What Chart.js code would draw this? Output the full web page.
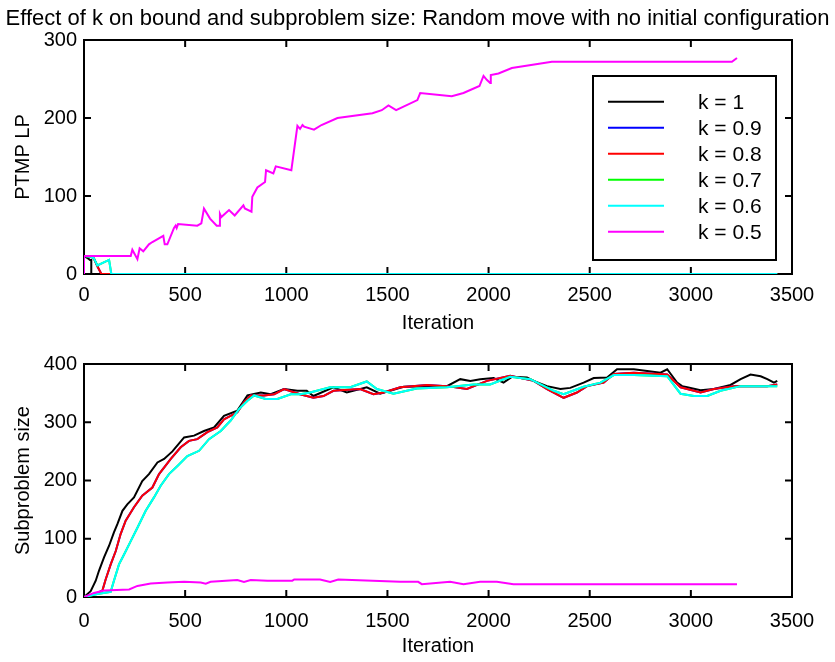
<!DOCTYPE html>
<html>
<head>
<meta charset="utf-8">
<script src="https://cdn.jsdelivr.net/npm/chart.js@4.4.0/dist/chart.umd.min.js"></script>
<style>
  html, body { margin: 0; padding: 0; background: #fff; }
  #wrap { position: relative; width: 835px; height: 662px; }
  #topChart { position: absolute; left: 0; top: 0; }
  #bottomChart { position: absolute; left: 0; top: 333px; }
</style>
</head>
<body>
<div id="wrap">
  <canvas id="topChart" width="835" height="333"></canvas>
  <canvas id="bottomChart" width="835" height="329"></canvas>
</div>
<script>
// Effect of k on bound (PTMP LP) and subproblem size, one line per k value

const kLabels = ['k = 1', 'k = 0.9', 'k = 0.8', 'k = 0.7', 'k = 0.6', 'k = 0.5'];
const kColors = ['#000000', '#0000ff', '#ff0000', '#00ff00', '#00ffff', '#ff00ff'];

const xTicks = [0, 500, 1000, 1500, 2000, 2500, 3000, 3500];
const topYTicks = [0, 100, 200, 300];
const bottomYTicks = [0, 100, 200, 300, 400];

// PTMP LP per iteration, [iteration, value]
const lpK1 = [[0, 23], [20, 20], [30, 18], [36, 18], [36, 0], [3427, 0]];
const lpK08 = [[0, 23], [36, 22], [49, 20], [66, 10], [86, 0], [3427, 0]];
const lpK06 = [[0, 23], [36, 22], [49, 20], [66, 11], [124, 18], [135, 0], [3427, 0]];
const lpK09 = lpK08;   // hidden under k = 0.8
const lpK07 = lpK06;   // hidden under k = 0.6
const lpK05 = [
  [0, 0], [0, 23], [231, 23], [239, 31], [264, 19], [275, 33], [293, 29], [321, 38], [338, 41],
  [392, 49], [399, 38], [412, 38], [445, 59], [453, 62], [458, 59], [465, 64], [560, 62], [580, 65],
  [593, 84], [623, 71], [656, 62], [672, 62], [672, 77], [679, 73], [717, 82], [745, 75], [788, 88],
  [795, 84], [828, 80], [832, 99], [857, 111], [895, 118], [900, 133], [936, 129], [948, 138],
  [1025, 133], [1055, 190], [1068, 186], [1080, 191], [1088, 189], [1137, 185], [1174, 191],
  [1253, 200], [1426, 206], [1472, 210], [1505, 216], [1543, 210], [1648, 223], [1662, 232],
  [1818, 228], [1876, 232], [1955, 241], [1975, 254], [1991, 249], [2008, 245], [2011, 255],
  [2049, 257], [2115, 264], [2313, 272], [3203, 272], [3228, 277]
];

// Subproblem size per iteration, [iteration, value]
const sizeK1 = [
  [0, 0], [33, 10], [58, 28], [74, 45], [99, 68], [124, 88], [148, 111], [165, 125], [190, 148],
  [214, 159], [247, 171], [288, 199], [321, 211], [363, 231], [396, 237], [437, 250], [495, 274],
  [544, 277], [593, 285], [643, 291], [692, 311], [758, 320], [808, 346], [874, 351], [923, 348],
  [989, 357], [1055, 354], [1101, 354], [1134, 345], [1233, 360], [1299, 351], [1398, 360],
  [1464, 349], [1580, 361], [1695, 362], [1794, 362], [1860, 374], [1910, 371], [1959, 374],
  [2025, 376], [2074, 368], [2115, 378], [2190, 377], [2223, 371], [2289, 362], [2355, 357],
  [2404, 359], [2470, 368], [2520, 376], [2586, 377], [2635, 391], [2718, 391], [2784, 388],
  [2850, 385], [2883, 391], [2932, 368], [2957, 362], [2982, 360], [3048, 355], [3114, 357],
  [3196, 364], [3246, 374], [3295, 382], [3345, 379], [3378, 374], [3411, 368], [3427, 371]
];
const sizeK08 = [
  [0, 0], [66, 7], [91, 11], [107, 30], [132, 56], [157, 79], [181, 108], [206, 131], [247, 154],
  [288, 174], [338, 188], [371, 211], [429, 237], [478, 257], [519, 268], [560, 271], [610, 283],
  [659, 291], [692, 305], [758, 317], [791, 334], [824, 346], [890, 346], [940, 348], [989, 357],
  [1068, 348], [1134, 342], [1184, 345], [1233, 354], [1365, 357], [1431, 348], [1481, 351],
  [1563, 360], [1695, 364], [1794, 362], [1893, 357], [1992, 371], [2107, 380], [2223, 371],
  [2289, 357], [2371, 342], [2437, 351], [2487, 362], [2569, 368], [2619, 383], [2718, 385],
  [2883, 382], [2949, 360], [3048, 351], [3114, 357], [3213, 362], [3378, 362], [3427, 365]
];
const sizeK06 = [
  [0, 0], [66, 5], [132, 9], [148, 28], [173, 56], [198, 73], [231, 96], [264, 119], [305, 148],
  [346, 171], [379, 191], [420, 211], [462, 225], [511, 242], [569, 251], [618, 271], [676, 285],
  [725, 303], [767, 323], [808, 337], [841, 346], [898, 340], [956, 340], [1022, 348], [1068, 348],
  [1118, 351], [1217, 360], [1316, 360], [1398, 370], [1448, 357], [1530, 349], [1645, 358],
  [1794, 360], [1926, 365], [2008, 365], [2107, 378], [2206, 374], [2322, 354], [2371, 348],
  [2470, 361], [2553, 368], [2619, 381], [2718, 381], [2883, 379], [2949, 349], [3015, 345],
  [3081, 345], [3147, 354], [3246, 362], [3378, 362], [3427, 362]
];
const sizeK09 = sizeK08;   // hidden under k = 0.8
const sizeK07 = sizeK06;   // hidden under k = 0.6
const sizeK05 = [
  [0, 0], [49, 7], [99, 11], [223, 13], [264, 19], [330, 23], [412, 25], [495, 26], [577, 25],
  [602, 23], [626, 26], [758, 29], [791, 26], [824, 29], [907, 28], [1030, 28], [1039, 30],
  [1167, 30], [1217, 26], [1257, 30], [1563, 26], [1652, 26], [1670, 22], [1810, 26], [1876, 22],
  [1958, 26], [2041, 26], [2123, 22], [3228, 22]
];

const FONT = "'Liberation Sans', Arial, Helvetica, sans-serif";

function toPoints(pairs) {
  return pairs.map(([x, y]) => ({ x: x, y: y }));
}

function makeDatasets(seriesList) {
  // matlab draws in order, so k = 1 goes underneath and k = 0.5 on top
  return seriesList.map((s, i) => ({
    label: kLabels[i],
    data: toPoints(s),
    borderColor: kColors[i],
    backgroundColor: kColors[i],
    borderWidth: 2,
    pointRadius: 0,
    tension: 0,
    order: seriesList.length - i
  }));
}

// box round the plot with inward ticks on all four sides
const frameTicks = {
  id: 'frameTicks',
  beforeDatasetsDraw(chart) {
    const { ctx, chartArea: a, scales: { x, y } } = chart;
    const len = 7;
    ctx.save();
    ctx.strokeStyle = '#000';
    ctx.lineWidth = 2;
    ctx.strokeRect(a.left, a.top, a.right - a.left, a.bottom - a.top);
    ctx.beginPath();
    x.ticks.forEach(t => {
      const px = x.getPixelForValue(t.value);
      ctx.moveTo(px, a.bottom);
      ctx.lineTo(px, a.bottom - len);
      ctx.moveTo(px, a.top);
      ctx.lineTo(px, a.top + len);
    });
    y.ticks.forEach(t => {
      const py = y.getPixelForValue(t.value);
      ctx.moveTo(a.left, py);
      ctx.lineTo(a.left + len, py);
      ctx.moveTo(a.right, py);
      ctx.lineTo(a.right - len, py);
    });
    ctx.stroke();
    ctx.restore();
  }
};

// legend in a framed box inside the top plot
const boxLegend = {
  id: 'boxLegend',
  afterDraw(chart, args, opts) {
    if (!opts.show) return;
    const ctx = chart.ctx;
    ctx.save();
    ctx.fillStyle = '#fff';
    ctx.fillRect(opts.left, opts.top, opts.width, opts.height);
    ctx.strokeStyle = '#000';
    ctx.lineWidth = 2;
    ctx.strokeRect(opts.left, opts.top, opts.width, opts.height);
    ctx.font = '21px ' + FONT;
    ctx.textAlign = 'left';
    ctx.textBaseline = 'middle';
    chart.data.datasets.forEach((ds, i) => {
      const yy = opts.firstRow + i * opts.rowGap;
      ctx.strokeStyle = ds.borderColor;
      ctx.lineWidth = 2;
      ctx.beginPath();
      ctx.moveTo(opts.lineX1, yy);
      ctx.lineTo(opts.lineX2, yy);
      ctx.stroke();
      ctx.fillStyle = '#000';
      ctx.fillText(ds.label, opts.textX, yy + 2);
    });
    ctx.restore();
  }
};

function makeChart(canvasId, datasets, cfg) {
  return new Chart(document.getElementById(canvasId), {
    type: 'line',
    data: { datasets: datasets },
    options: {
      responsive: false,
      animation: false,
      layout: { padding: { left: 0, right: 0, top: cfg.padTop, bottom: 0 } },
      plugins: {
        legend: { display: false },
        tooltip: { enabled: false },
        title: cfg.title ? {
          display: true,
          text: cfg.title,
          color: '#000',
          font: { family: FONT, size: 22, weight: 'normal', lineHeight: 1.2 },
          padding: { top: 5.8, bottom: 7.8 }
        } : { display: false },
        boxLegend: cfg.legend || { show: false }
      },
      scales: {
        x: {
          type: 'linear',
          min: 0,
          max: 3500,
          afterBuildTicks: s => { s.ticks = xTicks.map(v => ({ value: v })); },
          afterFit: s => { s.height = cfg.xHeight; },
          grid: { display: false, drawTicks: false },
          border: { display: false },
          ticks: {
            color: '#000',
            padding: cfg.xTickPad,
            maxRotation: 0,
            callback: v => String(v),
            font: { family: FONT, size: 20, lineHeight: 1.2 }
          },
          title: {
            display: true,
            text: 'Iteration',
            color: '#000',
            font: { family: FONT, size: 20, lineHeight: 1 },
            padding: { top: 0, bottom: cfg.xTitlePad }
          }
        },
        y: {
          type: 'linear',
          min: 0,
          max: cfg.yTicks[cfg.yTicks.length - 1],
          afterBuildTicks: s => { s.ticks = cfg.yTicks.map(v => ({ value: v })); },
          afterFit: s => { s.width = 84; },
          grid: { display: false, drawTicks: false },
          border: { display: false },
          ticks: {
            color: '#000',
            padding: 7,
            callback: v => String(v),
            font: { family: FONT, size: 20, lineHeight: 1.2 }
          },
          title: {
            display: true,
            text: cfg.yTitle,
            color: '#000',
            font: { family: FONT, size: 20, lineHeight: 1 },
            padding: { top: 13.5, bottom: 0 }
          }
        },
        // empty right margin so the figure title centres on the whole width
        yRight: {
          type: 'linear',
          position: 'right',
          afterFit: s => { s.width = 43; },
          grid: { display: false, drawTicks: false },
          border: { display: false },
          ticks: { display: false }
        }
      }
    },
    plugins: [frameTicks, boxLegend]
  });
}

makeChart('topChart', makeDatasets([lpK1, lpK09, lpK08, lpK07, lpK06, lpK05]), {
  title: 'Effect of k on bound and subproblem size: Random move with no initial configuration',
  padTop: 0,
  xHeight: 59,
  xTickPad: 9,
  xTitlePad: 0,
  yTicks: topYTicks,
  yTitle: 'PTMP LP',
  legend: {
    show: true,
    left: 593, top: 76, width: 183, height: 184,
    firstRow: 101.7, rowGap: 26,
    lineX1: 608, lineX2: 664, textX: 698
  }
});

makeChart('bottomChart', makeDatasets([sizeK1, sizeK09, sizeK08, sizeK07, sizeK06, sizeK05]), {
  title: null,
  padTop: 31,
  xHeight: 65,
  xTickPad: 12,
  xTitlePad: 6,
  yTicks: bottomYTicks,
  yTitle: 'Subproblem size'
});
</script>
</body>
</html>
